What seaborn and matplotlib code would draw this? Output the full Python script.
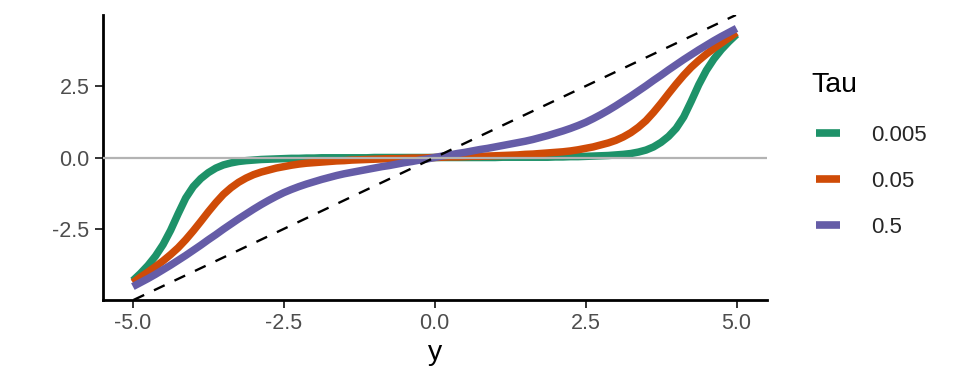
import numpy as np
import pandas as pd
import matplotlib
matplotlib.use("Agg")
import matplotlib.pyplot as plt
from matplotlib.lines import Line2D
import seaborn as sns

# ---- data ----
y_grid = [-5.0, -4.875, -4.75, -4.625, -4.5, -4.375, -4.25, -4.125,
          -4.0, -3.875, -3.75, -3.625, -3.5, -3.375, -3.25, -3.125,
          -3.0, -2.875, -2.75, -2.625, -2.5, -2.375, -2.25, -2.125,
          -2.0, -1.875, -1.75, -1.625, -1.5, -1.375, -1.25, -1.125,
          -1.0, -0.875, -0.75, -0.625, -0.5, -0.375, -0.25, -0.125,
          0.0,
          0.125, 0.25, 0.375, 0.5, 0.625, 0.75, 0.875, 1.0,
          1.125, 1.25, 1.375, 1.5, 1.625, 1.75, 1.875, 2.0,
          2.125, 2.25, 2.375, 2.5, 2.625, 2.75, 2.875, 3.0,
          3.125, 3.25, 3.375, 3.5, 3.625, 3.75, 3.875, 4.0,
          4.125, 4.25, 4.375, 4.5, 4.625, 4.75, 4.875, 5.0]

post_tau_0005 = [-4.31, -4.06, -3.78, -3.45, -3.05, -2.55, -1.97, -1.42,
                 -1.02, -0.74, -0.53, -0.37, -0.26, -0.19, -0.14, -0.11,
                 -0.09, -0.07, -0.06, -0.05, -0.04, -0.03, -0.03, -0.02,
                 -0.02, -0.01, -0.01, -0.01, -0.01, -0.01, -0.01, -0.01,
                 0.0, 0.0, 0.0, 0.0, 0.0, 0.0, 0.0, 0.0,
                 0.0,
                 0.0, 0.0, 0.0, 0.0, 0.0, 0.0, 0.0, 0.0,
                 0.01, 0.01, 0.01, 0.01, 0.01, 0.01, 0.01, 0.02,
                 0.02, 0.03, 0.03, 0.04, 0.05, 0.06, 0.07, 0.09,
                 0.11, 0.14, 0.19, 0.26, 0.37, 0.53, 0.74, 1.02,
                 1.42, 1.97, 2.55, 3.05, 3.45, 3.78, 4.06, 4.31]

post_tau_005 = [-4.38, -4.19, -4.01, -3.82, -3.62, -3.40, -3.16, -2.88,
                -2.57, -2.24, -1.90, -1.58, -1.29, -1.06, -0.87, -0.72,
                -0.60, -0.51, -0.44, -0.37, -0.32, -0.27, -0.23, -0.20,
                -0.18, -0.16, -0.14, -0.12, -0.11, -0.09, -0.08, -0.07,
                -0.06, -0.05, -0.04, -0.04, -0.03, -0.02, -0.02, -0.01,
                0.0,
                0.01, 0.02, 0.02, 0.03, 0.04, 0.04, 0.05, 0.06,
                0.07, 0.08, 0.09, 0.11, 0.12, 0.14, 0.16, 0.18,
                0.20, 0.23, 0.27, 0.32, 0.37, 0.44, 0.51, 0.60,
                0.72, 0.87, 1.06, 1.29, 1.58, 1.90, 2.24, 2.57,
                2.88, 3.16, 3.40, 3.62, 3.82, 4.01, 4.19, 4.38]

post_tau_05 = [-4.52, -4.38, -4.24, -4.09, -3.93, -3.77, -3.60, -3.43,
               -3.25, -3.07, -2.88, -2.70, -2.51, -2.33, -2.15, -1.98,
               -1.81, -1.65, -1.50, -1.36, -1.23, -1.12, -1.02, -0.93,
               -0.85, -0.77, -0.70, -0.63, -0.57, -0.52, -0.47, -0.42,
               -0.37, -0.32, -0.28, -0.23, -0.18, -0.14, -0.09, -0.05,
               0.0,
               0.05, 0.09, 0.14, 0.18, 0.23, 0.28, 0.32, 0.37,
               0.42, 0.47, 0.52, 0.57, 0.63, 0.70, 0.77, 0.85,
               0.93, 1.02, 1.12, 1.23, 1.36, 1.50, 1.65, 1.81,
               1.98, 2.15, 2.33, 2.51, 2.70, 2.88, 3.07, 3.25,
               3.43, 3.60, 3.77, 3.93, 4.09, 4.24, 4.38, 4.52]

tau_labels = ["0.005", "0.05", "0.5"]
x_ticks = [-5.0, -2.5, 0.0, 2.5, 5.0]
y_ticks = [-2.5, 0.0, 2.5]
tick_labels_x = ["-5.0", "-2.5", "0.0", "2.5", "5.0"]
tick_labels_y = ["-2.5", "0.0", "2.5"]

palette = ["#1E9269", "#CF4B07", "#655CA7"]

df = pd.concat([
    pd.DataFrame({"y": y_grid, "post": post_tau_0005, "Tau": tau_labels[0]}),
    pd.DataFrame({"y": y_grid, "post": post_tau_005, "Tau": tau_labels[1]}),
    pd.DataFrame({"y": y_grid, "post": post_tau_05, "Tau": tau_labels[2]}),
], ignore_index=True)

sns.set_theme(style="white")
plt.rcParams["font.family"] = ["Liberation Sans", "DejaVu Sans"]
plt.rcParams["axes.unicode_minus"] = False

fig = plt.figure(figsize=(9.6, 3.84), dpi=100)
ax = fig.add_axes([102.7 / 960, 1 - 300 / 384, (766.7 - 102.7) / 960, (300 - 15) / 384])

sns.lineplot(data=df, x="y", y="post", hue="Tau", hue_order=tau_labels,
             palette=palette, linewidth=5.4, ax=ax, legend=False, sort=True,
             solid_capstyle="butt", solid_joinstyle="round")
ax.axhline(0, color="#B3B3B3", linewidth=1.6, zorder=3)
ax.axline((0, 0), slope=1, color="black", linewidth=1.7, dashes=(5.0, 4.6), zorder=4)

ax.set_xlim(-5.5, 5.5)
ax.set_ylim(-4.99, 4.99)
ax.set_xticks(x_ticks)
ax.set_xticklabels(tick_labels_x)
ax.set_yticks(y_ticks)
ax.set_yticklabels(tick_labels_y)
ax.tick_params(axis="both", which="major", length=5.5, width=1.4, color="#333333",
               labelsize=15.5, labelcolor="#4D4D4D", pad=4, bottom=True, left=True)
for s in ["top", "right"]:
    ax.spines[s].set_visible(False)
for s in ["left", "bottom"]:
    ax.spines[s].set_color("black")
    ax.spines[s].set_linewidth(2.0)
ax.set_xlabel("y", fontsize=20.5, color="black", labelpad=4)
ax.set_ylabel("")
ax.grid(False)

handles = [Line2D([], [], color=c, linewidth=5.5, solid_capstyle="butt") for c in palette]
leg = ax.legend(handles, tau_labels, loc="upper left",
                bbox_to_anchor=(816 / 960, 1 - 125 / 384), bbox_transform=fig.transFigure,
                frameon=False, fontsize=16, borderpad=0,
                handlelength=1.1, handletextpad=1.4, labelspacing=1.12,
                borderaxespad=0)
fig.text(811.7 / 960, 1 - 92.3 / 384, "Tau", fontsize=20.5, color="black",
         ha="left", va="baseline")

fig.savefig("out.png", dpi=100)
